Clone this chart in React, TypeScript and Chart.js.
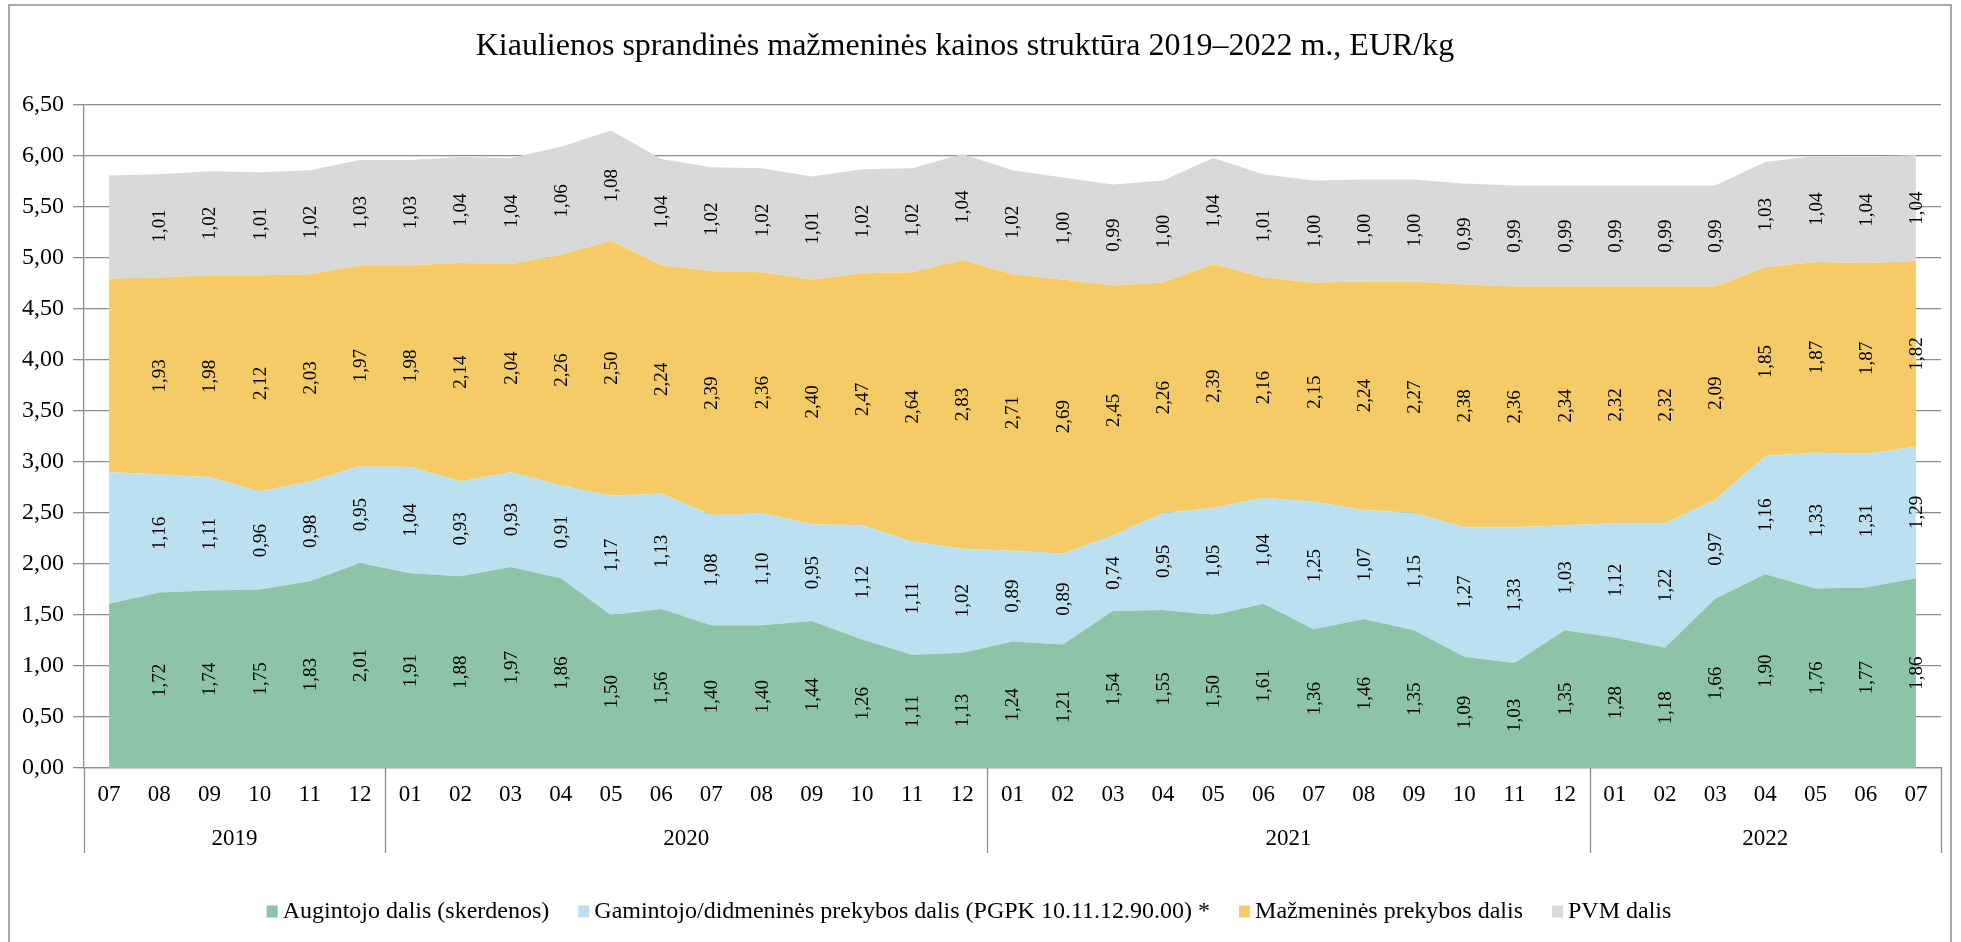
import React, { useEffect, useRef } from 'react';
import { Chart, registerables } from 'chart.js';

Chart.register(...registerables);

const FONT = '"Liberation Serif", "Times New Roman", serif';

const TITLE = 'Kiaulienos sprandinės mažmeninės kainos struktūra 2019–2022 m., EUR/kg';

const months = [
  '07', '08', '09', '10', '11', '12',
  '01', '02', '03', '04', '05', '06', '07', '08', '09', '10', '11', '12',
  '01', '02', '03', '04', '05', '06', '07', '08', '09', '10', '11', '12',
  '01', '02', '03', '04', '05', '06', '07',
];

const yearLabels = ['2019', '2020', '2021', '2022'];
const yearCounts = [6, 12, 12, 7];

const seriesNames = [
  'Augintojo dalis (skerdenos)',
  'Gamintojo/didmeninės prekybos dalis (PGPK 10.11.12.90.00) *',
  'Mažmeninės prekybos dalis',
  'PVM dalis',
];

const seriesColors = ['#8DC3A7', '#BDE0F0', '#F5CB67', '#D9D9D9'];

const augintojo = [
  1.61, 1.72, 1.74, 1.75, 1.83, 2.01,
  1.91, 1.88, 1.97, 1.86, 1.5, 1.56, 1.4, 1.4, 1.44, 1.26, 1.11, 1.13,
  1.24, 1.21, 1.54, 1.55, 1.5, 1.61, 1.36, 1.46, 1.35, 1.09, 1.03, 1.35,
  1.28, 1.18, 1.66, 1.9, 1.76, 1.77, 1.86,
];

const gamintojo = [
  1.29, 1.16, 1.11, 0.96, 0.98, 0.95,
  1.04, 0.93, 0.93, 0.91, 1.17, 1.13, 1.08, 1.1, 0.95, 1.12, 1.11, 1.02,
  0.89, 0.89, 0.74, 0.95, 1.05, 1.04, 1.25, 1.07, 1.15, 1.27, 1.33, 1.03,
  1.12, 1.22, 0.97, 1.16, 1.33, 1.31, 1.29,
];

const mazmenines = [
  1.9, 1.93, 1.98, 2.12, 2.03, 1.97,
  1.98, 2.14, 2.04, 2.26, 2.5, 2.24, 2.39, 2.36, 2.4, 2.47, 2.64, 2.83,
  2.71, 2.69, 2.45, 2.26, 2.39, 2.16, 2.15, 2.24, 2.27, 2.38, 2.36, 2.34,
  2.32, 2.32, 2.09, 1.85, 1.87, 1.87, 1.82,
];

const pvm = [
  1.01, 1.01, 1.02, 1.01, 1.02, 1.03,
  1.03, 1.04, 1.04, 1.06, 1.08, 1.04, 1.02, 1.02, 1.01, 1.02, 1.02, 1.04,
  1.02, 1.0, 0.99, 1.0, 1.04, 1.01, 1.0, 1.0, 1.0, 0.99, 0.99, 0.99,
  0.99, 0.99, 0.99, 1.03, 1.04, 1.04, 1.04,
];

const seriesData = [augintojo, gamintojo, mazmenines, pvm];

const fmt = (v: number) => v.toFixed(2).replace('.', ',');

const GRID = '#8c8c8c';

const decorPlugin = {
  id: 'decor',
  afterDatasetsDraw(chart: any) {
    const ctx = chart.ctx;
    const y = chart.scales.y;
    ctx.save();
    ctx.fillStyle = '#000';
    ctx.font = `19px ${FONT}`;
    ctx.textAlign = 'center';
    ctx.textBaseline = 'middle';
    for (let d = 0; d < seriesData.length; d++) {
      const meta = chart.getDatasetMeta(d);
      for (let j = 1; j < seriesData[d].length; j++) {
        let below = 0;
        for (let k = 0; k < d; k++) below += seriesData[k][j];
        const v = seriesData[d][j];
        const px = meta.data[j].x;
        const py = y.getPixelForValue(below + v / 2);
        ctx.save();
        ctx.translate(px, py);
        ctx.rotate(-Math.PI / 2);
        ctx.fillText(fmt(v), 0, 1);
        ctx.restore();
      }
    }
    ctx.restore();
  },
  afterDraw(chart: any) {
    const ctx = chart.ctx;
    const area = chart.chartArea;
    const x = chart.scales.x;
    ctx.save();
    // title
    ctx.fillStyle = '#000';
    ctx.font = `32px ${FONT}`;
    ctx.textAlign = 'center';
    ctx.textBaseline = 'alphabetic';
    ctx.fillText(TITLE, 965, 55);

    // year axis
    ctx.strokeStyle = GRID;
    ctx.lineWidth = 1.3;
    const sepBottom = 853;
    const bounds: number[] = [area.left];
    let idx = 0;
    for (let i = 0; i < yearCounts.length; i++) {
      idx += yearCounts[i];
      if (i < yearCounts.length - 1) {
        bounds.push((x.getPixelForValue(idx - 1) + x.getPixelForValue(idx)) / 2);
      } else {
        bounds.push(area.right);
      }
    }
    for (const b of bounds) {
      ctx.beginPath();
      ctx.moveTo(Math.round(b) + 0.5, area.bottom);
      ctx.lineTo(Math.round(b) + 0.5, sepBottom);
      ctx.stroke();
    }
    ctx.font = `23px ${FONT}`;
    ctx.textBaseline = 'middle';
    for (let i = 0; i < yearLabels.length; i++) {
      ctx.fillText(yearLabels[i], (bounds[i] + bounds[i + 1]) / 2, 839);
    }

    // legend
    ctx.font = `24px ${FONT}`;
    const box = 11;
    const gapBox = 5;
    const gapItem = 29;
    const widths = seriesNames.map((n) => ctx.measureText(n).width);
    let total = 0;
    widths.forEach((w, i) => {
      total += box + gapBox + w + (i < widths.length - 1 ? gapItem : 0);
    });
    let lx = 969 - total / 2;
    const ly = 911;
    ctx.textAlign = 'left';
    for (let i = 0; i < seriesNames.length; i++) {
      ctx.fillStyle = seriesColors[i];
      ctx.fillRect(lx, ly - box / 2, box, box + 1);
      ctx.fillStyle = '#000';
      ctx.fillText(seriesNames[i], lx + box + gapBox, ly + 1);
      lx += box + gapBox + widths[i] + gapItem;
    }

    // outer border
    ctx.strokeStyle = '#8f8f8f';
    ctx.lineWidth = 1.5;
    ctx.strokeRect(9, 5, 1942, 945);
    ctx.restore();
  },
};

export default function App() {
  const ref = useRef<HTMLCanvasElement | null>(null);

  useEffect(() => {
    if (!ref.current) return;
    const chart = new Chart(ref.current, {
      type: 'line',
      data: {
        labels: months,
        datasets: seriesData.map((d, i) => ({
          label: seriesNames[i],
          data: d,
          backgroundColor: seriesColors[i],
          borderColor: seriesColors[i],
          borderWidth: 0,
          pointRadius: 0,
          tension: 0,
          fill: i === 0 ? 'origin' : '-1',
        })),
      },
      options: {
        responsive: false,
        animation: false,
        devicePixelRatio: 1,
        layout: { padding: { top: 105, left: 0, right: 20, bottom: 942 - 768 - 60 } },
        plugins: {
          legend: { display: false },
          title: { display: false },
          tooltip: { enabled: false },
        },
        scales: {
          x: {
            type: 'category',
            offset: true,
            afterFit: (s: any) => {
              s.height = 60;
            },
            grid: { display: false, drawTicks: false },
            border: { display: true, color: GRID, width: 1.3 },
            ticks: {
              color: '#000',
              font: { family: FONT, size: 23 },
              padding: 13,
              maxRotation: 0,
              autoSkip: false,
            },
          },
          y: {
            stacked: true,
            min: 0,
            max: 6.5,
            afterFit: (s: any) => {
              s.width = 84;
            },
            grid: { color: GRID, lineWidth: 1.3, tickLength: 11, drawTicks: true },
            border: { display: true, color: GRID, width: 1.3 },
            ticks: {
              stepSize: 0.5,
              color: '#000',
              font: { family: FONT, size: 24 },
              padding: 9,
              callback: (v: any) => fmt(Number(v)),
            },
          },
        },
      },
      plugins: [decorPlugin],
    } as any);
    return () => chart.destroy();
  }, []);

  return (
    <div style={{ position: 'fixed', left: 0, top: 0, width: 1961, height: 942, background: '#fff' }}>
      <canvas ref={ref} width={1961} height={942} style={{ display: 'block', width: 1961, height: 942 }} />
    </div>
  );
}
